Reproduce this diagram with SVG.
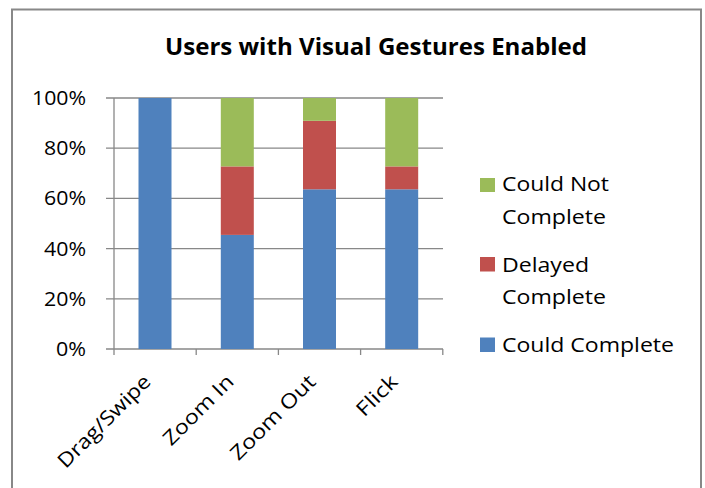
<svg xmlns="http://www.w3.org/2000/svg" width="705" height="488" viewBox="0 0 705 488">
<style>
.t{font-family:"Open Sans","Liberation Sans",sans-serif;font-size:20px;fill:#000}
.title{font-family:"Open Sans","Liberation Sans",sans-serif;font-size:24px;font-weight:bold;fill:#000}
.grid{stroke:#888;stroke-width:1.3;fill:none}
.blue{fill:#4F81BD}.red{fill:#C0504D}.green{fill:#9BBB59}
</style>
<rect x="0" y="0" width="705" height="488" fill="#fff"/>
<rect x="12" y="9.5" width="689" height="495" fill="none" stroke="#888" stroke-width="2"/>
<text class="title" x="165" y="55" textLength="422" lengthAdjust="spacingAndGlyphs">Users with Visual Gestures Enabled</text>
<g id="axes">
<path class="grid" d="M106 98H443M106 148.2H443M106 198.4H443M106 248.6H443M106 298.8H443M106 349H443M114 98V355M196.2 349V355M278.4 349V355M360.6 349V355M442.8 349V355"/>
</g>
<g id="ylabels">
<text class="t" x="86" y="105" text-anchor="end" textLength="54" lengthAdjust="spacingAndGlyphs">100%</text>
<text class="t" x="86" y="155.2" text-anchor="end" textLength="42" lengthAdjust="spacingAndGlyphs">80%</text>
<text class="t" x="86" y="205.4" text-anchor="end" textLength="42" lengthAdjust="spacingAndGlyphs">60%</text>
<text class="t" x="86" y="255.6" text-anchor="end" textLength="42" lengthAdjust="spacingAndGlyphs">40%</text>
<text class="t" x="86" y="305.8" text-anchor="end" textLength="42" lengthAdjust="spacingAndGlyphs">20%</text>
<text class="t" x="86" y="356" text-anchor="end" textLength="30" lengthAdjust="spacingAndGlyphs">0%</text>
</g>
<g id="bar-dragswipe">
<rect class="blue" x="138.5" y="98" width="33" height="251"/>
</g>
<g id="bar-zoomin">
<rect class="blue" x="220.8" y="234.9" width="33" height="114.1"/>
<rect class="red" x="220.8" y="166.4" width="33" height="68.5"/>
<rect class="green" x="220.8" y="98" width="33" height="68.4"/>
</g>
<g id="bar-zoomout">
<rect class="blue" x="303" y="189.3" width="33" height="159.7"/>
<rect class="red" x="303" y="120.8" width="33" height="68.5"/>
<rect class="green" x="303" y="98" width="33" height="22.8"/>
</g>
<g id="bar-flick">
<rect class="blue" x="385.2" y="189.3" width="33" height="159.7"/>
<rect class="red" x="385.2" y="166.4" width="33" height="22.9"/>
<rect class="green" x="385.2" y="98" width="33" height="68.4"/>
</g>
<g id="xlabels">
<text class="t" text-anchor="end" transform="translate(152 383) rotate(-45)" textLength="122" lengthAdjust="spacingAndGlyphs">Drag/Swipe</text>
<text class="t" text-anchor="end" transform="translate(235 383) rotate(-45)" textLength="90" lengthAdjust="spacingAndGlyphs">Zoom In</text>
<text class="t" text-anchor="end" transform="translate(317 383) rotate(-45)" textLength="111" lengthAdjust="spacingAndGlyphs">Zoom Out</text>
<text class="t" text-anchor="end" transform="translate(399 383) rotate(-45)" textLength="49" lengthAdjust="spacingAndGlyphs">Flick</text>
</g>
<g id="legend">
<rect class="green" x="480" y="178" width="15" height="14"/>
<text class="t" x="502" y="191" textLength="107" lengthAdjust="spacingAndGlyphs">Could Not</text>
<text class="t" x="502" y="223.5" textLength="104" lengthAdjust="spacingAndGlyphs">Complete</text>
<rect class="red" x="480" y="257" width="15" height="14.5"/>
<text class="t" x="502" y="272" textLength="87" lengthAdjust="spacingAndGlyphs">Delayed</text>
<text class="t" x="502" y="304" textLength="104" lengthAdjust="spacingAndGlyphs">Complete</text>
<rect class="blue" x="480" y="337.5" width="15" height="14.5"/>
<text class="t" x="502" y="351.5" textLength="172" lengthAdjust="spacingAndGlyphs">Could Complete</text>
</g>
</svg>
